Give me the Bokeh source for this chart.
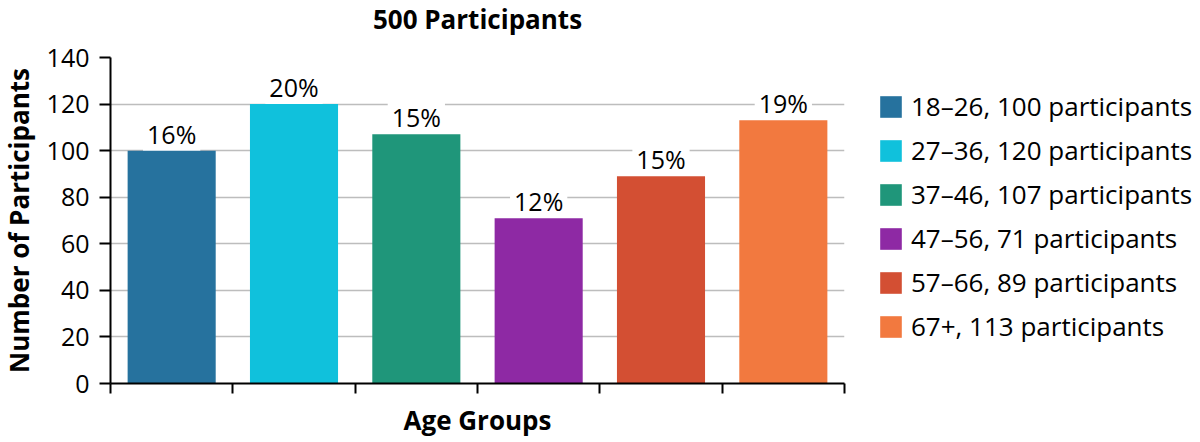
from bokeh.core.properties import value
from bokeh.embed import file_html
from bokeh.models import ColumnDataSource, FixedTicker, Legend, LegendItem, Range1d
from bokeh.plotting import figure
from bokeh.resources import INLINE

# data
groups = ["18–26", "27–36", "37–46", "47–56", "57–66", "67+"]
participants = [100, 120, 107, 71, 89, 113]
percents = ["16%", "20%", "15%", "12%", "15%", "19%"]
colors = ["#26729e", "#10c1dc", "#1f967a", "#8e29a4", "#d34f33", "#f2793f"]
y_ticks = [0, 20, 40, 60, 80, 100, 120, 140]

FONT = "Open Sans"

xpos = [i + 0.5 for i in range(len(groups))]
source = ColumnDataSource(data=dict(
    x=xpos,
    top=participants,
    pct=percents,
    color=colors,
))

# canvas 1203 x 464 (113 + 734 + 356, 79 + 326 + 59), pulled up/left so
# the frame sits at (110, 57) of the 1200 x 442 window
p = figure(
    frame_width=734, frame_height=326,
    x_range=Range1d(0, len(groups)), y_range=Range1d(0, 140),
    output_backend="svg", toolbar_location=None,
    min_border_left=113, min_border_right=356,
    min_border_top=79, min_border_bottom=59,
)
p.styles = {"margin-left": "-3px", "margin-top": "-22px"}
p.outline_line_color = None
p.background_fill_color = "white"

# title
p.title.text = "500 Participants"
p.title.align = "center"
p.title.text_font = FONT
p.title.text_font_size = "26px"
p.title.text_font_style = "bold"
p.title.text_color = "black"
p.title.standoff = 41

# percent labels first so that the bars sit over their white boxes
p.text(x="x", y="top", text="pct", source=source,
       text_font=value(FONT), text_font_size="25px", text_color="black",
       text_align="center", text_baseline="bottom", y_offset=4,
       background_fill_color="white", padding=4)

bars = p.vbar(x="x", top="top", bottom=0, width=0.72, source=source,
              fill_color="color", line_color=None)

# grid
p.xgrid.visible = False
p.ygrid.ticker = FixedTicker(ticks=y_ticks)
p.ygrid.grid_line_color = "#bdbdbd"
p.ygrid.grid_line_width = 1.5

# y axis
ya = p.yaxis[0]
ya.ticker = FixedTicker(ticks=y_ticks)
ya.axis_label = "Number of Participants"
ya.axis_label_text_font = FONT
ya.axis_label_text_font_size = "26px"
ya.axis_label_text_font_style = "bold"
ya.axis_label_text_color = "black"
ya.axis_label_standoff = 7
ya.major_label_text_font = FONT
ya.major_label_text_font_size = "25px"
ya.major_label_text_color = "black"
ya.major_label_standoff = 10
ya.axis_line_width = 2
ya.axis_line_color = "black"
ya.major_tick_line_width = 2
ya.major_tick_out = 11
ya.major_tick_in = 0
ya.minor_tick_line_color = None

# x axis: ticks at group boundaries, no tick labels
xa = p.xaxis[0]
xa.ticker = FixedTicker(ticks=list(range(len(groups) + 1)))
xa.major_label_text_font_size = "0px"
xa.axis_label = "Age Groups"
xa.axis_label_text_font = FONT
xa.axis_label_text_font_size = "26px"
xa.axis_label_text_font_style = "bold"
xa.axis_label_text_color = "black"
xa.axis_label_standoff = 8
xa.axis_line_width = 2
xa.axis_line_color = "black"
xa.major_tick_line_width = 2
xa.major_tick_out = 10
xa.major_tick_in = 0
xa.minor_tick_line_color = None

# legend
items = []
for i, g in enumerate(groups):
    items.append(LegendItem(label=f"{g}, {participants[i]} participants",
                            renderers=[bars], index=i))
legend = Legend(items=items, location=(33, 39), ncols=1)
legend.margin = 0
legend.padding = 0
legend.border_line_color = None
legend.background_fill_alpha = 0
legend.glyph_width = 27
legend.glyph_height = 27
legend.label_height = 27
legend.label_standoff = 7
legend.spacing = 8
legend.label_text_font = FONT
legend.label_text_font_size = "26px"
legend.label_text_color = "black"
p.add_layout(legend, "right")

open("out.html", "w").write(file_html(p, INLINE))
